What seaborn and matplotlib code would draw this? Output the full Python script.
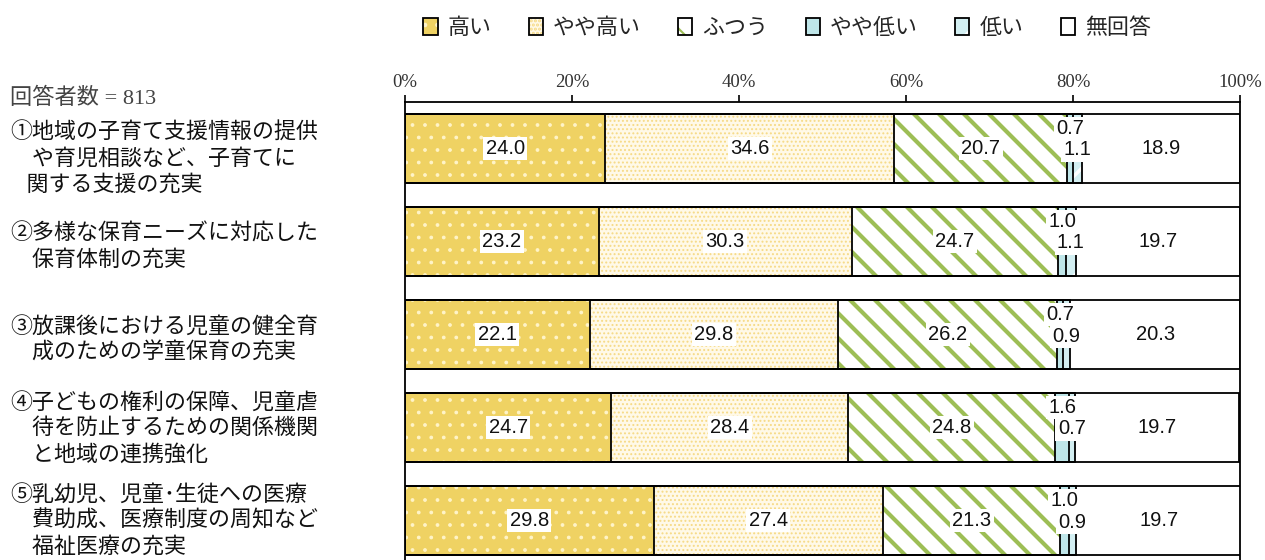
import matplotlib
matplotlib.use("Agg")
import matplotlib.pyplot as plt
import pandas as pd
import seaborn as sns
from matplotlib.patches import Patch
from matplotlib.legend_handler import HandlerTuple
from matplotlib.transforms import blended_transform_factory, offset_copy

# ---- data -------------------------------------------------------------
items = [
    "①地域の子育て支援情報の提供\n\u3000や育児相談など、子育てに\n\u2002\u2005関する支援の充実",
    "②多様な保育ニーズに対応した\n\u3000保育体制の充実",
    "③放課後における児童の健全育\n\u3000成のための学童保育の充実",
    "④子どもの権利の保障、児童虐\n\u3000待を防止するための関係機関\n\u3000と地域の連携強化",
    "⑤乳幼児、児童･生徒への医療\n\u3000費助成、医療制度の周知など\n\u3000福祉医療の充実",
]
levels = ["高い", "やや高い", "ふつう", "やや低い", "低い", "無回答"]
high = [24.0, 23.2, 22.1, 24.7, 29.8]
rather_high = [34.6, 30.3, 29.8, 28.4, 27.4]
normal = [20.7, 24.7, 26.2, 24.8, 21.3]
rather_low = [0.7, 1.0, 0.7, 1.6, 1.0]
low = [1.1, 1.1, 0.9, 0.7, 0.9]
no_answer = [18.9, 19.7, 20.3, 19.7, 19.7]
respondents = 813
ticks = [0, 20, 40, 60, 80, 100]

df = pd.DataFrame(
    {"item": items, "高い": high, "やや高い": rather_high, "ふつう": normal,
     "やや低い": rather_low, "低い": low, "無回答": no_answer}
)
cum = df[levels].cumsum(axis=1)

# ---- figure geometry ----------------------------------------------------
W, H = 1265, 560
DPI = 150                 # hatch tiles are one inch, so this sets their scale
K = 100 / DPI             # sizes below are tuned in "points at 100 dpi"


def pt(v):
    return v * K


# face colour, hatch pattern, hatch colour, hatch line width
styles = {
    "高い":     ("#EFD263", "..", "#FFF4C8", 0.9),
    "やや高い": ("#FFF9E8", "......", "#F6DA86", 0.9),
    "ふつう":   ("#FFFFFF", "\\\\", "#9DBE55", 3.0),
    "やや低い": ("#BFE6E9", "", "#BFE6E9", 1.0),
    "低い":     ("#D3EFF2", "/", "#FFFFFF", 2.5),
    "無回答":   ("#FFFFFF", "", "#FFFFFF", 1.0),
}
JP = ["Noto Sans CJK JP", "DejaVu Sans"]
SERIF = ["Liberation Serif", "Noto Sans CJK JP"]
NUM = ["Liberation Sans", "DejaVu Sans"]

sns.set_theme(style="white")
plt.rcParams["font.family"] = JP

fig = plt.figure(figsize=(W / DPI, H / DPI), dpi=DPI)
ax = fig.add_axes([405 / W, -7 / H, 835 / W, 465 / H])

BAR_H = 0.75
# filled segments: drawn as cumulative bars, longest first
for lvl in reversed(levels):
    fc, hatch, hc, hlw = styles[lvl]
    with plt.rc_context({"hatch.linewidth": pt(hlw)}):
        sns.barplot(x=cum[lvl], y=df["item"], order=items, orient="y",
                    color=fc, saturation=1, width=BAR_H, errorbar=None,
                    hatch=hatch, edgecolor=hc, linewidth=0, ax=ax)
# black outlines of every segment
for lvl in levels:
    sns.barplot(x=cum[lvl], y=df["item"], order=items, orient="y",
                color="black", fill=False, width=BAR_H, errorbar=None,
                edgecolor="black", linewidth=pt(1.3), ax=ax)

ax.set_xlim(0, 100)
ax.set_ylim(len(items) - 0.5, -0.5)
ax.set_xlabel("")
ax.set_ylabel("")
ax.set_yticks([])
ax.xaxis.tick_top()
ax.set_xticks(ticks)
ax.set_xticklabels([f"{t}%" for t in ticks], family=SERIF, fontsize=pt(13.5),
                   color="#333333")
ax.tick_params(axis="x", which="major", top=True, bottom=False, direction="out",
               length=pt(5), width=pt(1.2), color="black", pad=pt(3))
for side in ("top", "left", "right"):
    ax.spines[side].set_visible(True)
    ax.spines[side].set_color("black")
    ax.spines[side].set_linewidth(pt(1.3))
ax.spines["bottom"].set_visible(False)

# ---- value labels -----------------------------------------------------
# the two thin segments get their labels stacked above / on the bar centre
box = dict(boxstyle="square,pad=0.12", fc="white", ec="none")
up = offset_copy(ax.transData, fig=fig, x=0, y=pt(20 * 0.72), units="points")
down = offset_copy(ax.transData, fig=fig, x=0, y=pt(-1.5 * 0.72), units="points")
for i in range(len(items)):
    for lvl in levels:
        v = df.loc[i, lvl]
        mid = cum.loc[i, lvl] - v / 2
        if lvl == "やや低い":
            tr = up
        elif lvl == "低い":
            tr = down
        else:
            tr = ax.transData
        ax.text(mid, i, f"{v:.1f}", transform=tr, ha="center", va="center",
                fontsize=pt(14.5), family=NUM, color="#111111",
                bbox=None if lvl == "無回答" else box, zorder=5)

# ---- category labels --------------------------------------------------
label_shift = [0.11, 0.06, 0.06, 0.01, 0.0]
tr_lab = blended_transform_factory(fig.transFigure, ax.transData)
for i, (txt, dy) in enumerate(zip(items, label_shift)):
    ax.text(10 / W, i + dy, txt, transform=tr_lab, ha="left", va="center",
            fontsize=pt(15.8), family=JP, color="#111111", linespacing=1.24,
            clip_on=False)

fig.text(10 / W, 1 - 98 / H, f"回答者数 = {respondents}", ha="left", va="center",
         fontsize=pt(16), family=SERIF, color="#444444")

# ---- legend -----------------------------------------------------------
handles = []
for lvl in levels:
    fc, hatch, hc, hlw = styles[lvl]
    with plt.rc_context({"hatch.linewidth": pt(hlw)}):
        fill_patch = Patch(facecolor=fc, hatch=hatch, edgecolor=hc, linewidth=0)
    handles.append((fill_patch,
                    Patch(facecolor="none", edgecolor="black", linewidth=pt(1.3))))
fig.legend(handles, levels, handler_map={tuple: HandlerTuple(ndivide=1, pad=0)},
           loc="center", bbox_to_anchor=(787 / W, 1 - 28 / H), ncol=6,
           frameon=False, fontsize=pt(15.8), handlelength=0.65, handleheight=0.85,
           handletextpad=0.45, columnspacing=1.7, borderpad=0)

fig.savefig("out.png", dpi=DPI)
